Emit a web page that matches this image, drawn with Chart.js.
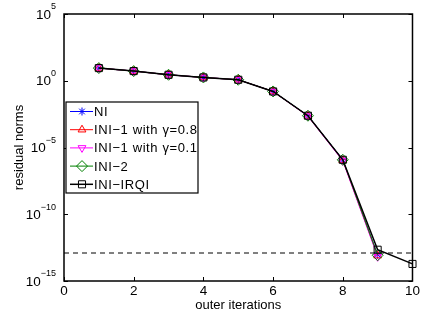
<!DOCTYPE html>
<html lang="en">
<head>
<meta charset="UTF-8" />
<title>Residual norms</title>
<script src="https://cdn.jsdelivr.net/npm/chart.js@4.4.0/dist/chart.umd.min.js"></script>
<style>
  html, body { margin: 0; padding: 0; background: #fff; }
</style>
</head>
<body>
<canvas id="myChart" width="422" height="314"></canvas>
<script>
// data
const iterations = [1, 2, 3, 4, 5, 6, 7, 8, 9, 10];
const niNorms     = [8.9, 5.3, 2.8, 1.77, 1.19, 0.158, 2.4e-3, 1.2e-6, 9.3e-14];
const ini1g08     = [8.9, 5.3, 2.8, 1.77, 1.19, 0.158, 2.3e-3, 1.1e-6, 8.0e-14];
const ini1g01     = [8.9, 5.3, 2.8, 1.77, 1.19, 0.158, 2.2e-3, 1.0e-6, 6.5e-14];
const ini2Norms   = [8.9, 5.3, 2.8, 1.77, 1.19, 0.158, 2.4e-3, 1.2e-6, 8.5e-14];
const irqiNorms   = [8.9, 5.3, 2.8, 1.77, 1.19, 0.158, 2.4e-3, 1.2e-6, 2.2e-13, 1.9e-14];
const tolerance   = 1.25e-13;
const xTicks = [0, 2, 4, 6, 8, 10];
const yTickExp = [5, 0, -5, -10, -15];

const FONT = "'Liberation Sans', Arial, Helvetica, sans-serif";

function pts(vals) {
  return vals.map((v, i) => ({ x: iterations[i], y: v }));
}

const series = [
  { label: "NI", data: niNorms, color: "#0000ff", style: "star", radius: 4, rotation: 0, order: 4 },
  { label: "INI\u22121 with \u03b3=0.8", data: ini1g08, color: "#ff0000", style: "triangle", radius: 4.5, rotation: 0, order: 3 },
  { label: "INI\u22121 with \u03b3=0.1", data: ini1g01, color: "#ff00ff", style: "triangle", radius: 4.5, rotation: 180, order: 2 },
  { label: "INI\u22122", data: ini2Norms, color: "#008000", style: "rectRot", radius: 5.5, rotation: 0, order: 1 },
  { label: "INI\u2212IRQI", data: irqiNorms, color: "#000000", style: "rect", radius: 5, rotation: 0, order: 0 },
];

let datasets = series.map((s) => ({
  label: s.label,
  data: pts(s.data),
  borderColor: s.color,
  backgroundColor: "rgba(0,0,0,0)",
  borderWidth: s.color === "#000000" ? 1.5 : 1,
  pointStyle: s.style,
  pointRotation: s.rotation,
  pointRadius: s.radius,
  pointBorderColor: s.color,
  pointBackgroundColor: "rgba(0,0,0,0)",
  pointBorderWidth: 1,
  order: s.order,
  clip: false,
  tension: 0,
}));
datasets.push({
  label: "tolerance",
  data: [{ x: 0, y: tolerance }, { x: 10, y: tolerance }],
  borderColor: "#000",
  borderWidth: 1,
  borderDash: [5, 4],
  pointRadius: 0,
  order: 5,
});

const matlabAxes = {
  id: "matlabAxes",
  afterDraw(chart) {
    const ctx = chart.ctx;
    const a = chart.chartArea;
    const xs = chart.scales.x;
    const ys = chart.scales.y;
    ctx.save();
    ctx.strokeStyle = "#000";
    ctx.lineWidth = 1;
    // inward ticks
    ctx.beginPath();
    xTicks.forEach((t) => {
      const px = Math.round(xs.getPixelForValue(t)) + 0.5;
      ctx.moveTo(px, a.bottom); ctx.lineTo(px, a.bottom - 4);
      ctx.moveTo(px, a.top); ctx.lineTo(px, a.top + 4);
    });
    yTickExp.forEach((e) => {
      const py = Math.round(ys.getPixelForValue(Math.pow(10, e))) + 0.5;
      ctx.moveTo(a.left, py); ctx.lineTo(a.left + 4, py);
      ctx.moveTo(a.right, py); ctx.lineTo(a.right - 4, py);
    });
    ctx.stroke();
    // box
    ctx.lineWidth = 1.5;
    ctx.strokeRect(a.left, a.top, a.right - a.left, a.bottom - a.top);

    // y tick labels: 10 with superscript exponent
    ctx.fillStyle = "#000";
    ctx.textBaseline = "middle";
    yTickExp.forEach((e) => {
      const py = ys.getPixelForValue(Math.pow(10, e));
      const exp = e < 0 ? "\u2212" + (-e) : String(e);
      ctx.font = "9px " + FONT;
      const ew = ctx.measureText(exp).width;
      const right = a.left - 8;
      ctx.textAlign = "left";
      ctx.fillText(exp, right - ew, py - 7);
      ctx.font = "13.5px " + FONT;
      ctx.textAlign = "right";
      ctx.fillText("10", right - ew, py + 1);
    });

    // legend box
    const lx = 66, ly = 102, lw = 132, lh = 91;
    ctx.fillStyle = "#fff";
    ctx.fillRect(lx, ly, lw, lh);
    ctx.lineWidth = 1.2;
    ctx.strokeRect(lx, ly, lw, lh);
    ctx.font = "13px " + FONT;
    ctx.textAlign = "left";
    ctx.textBaseline = "middle";
    series.forEach((s, i) => {
      const cy = ly + 9.5 + i * 18.2;
      ctx.strokeStyle = s.color;
      ctx.lineWidth = s.color === "#000000" ? 1.5 : 1;
      ctx.beginPath();
      ctx.moveTo(lx + 4, cy); ctx.lineTo(lx + 27, cy);
      ctx.stroke();
      ctx.lineWidth = 1;
      ctx.fillStyle = "rgba(0,0,0,0)";
      Chart.helpers.drawPoint(ctx, { pointStyle: s.style, rotation: s.rotation, radius: s.radius, borderWidth: 1 }, lx + 16, cy);
      ctx.fillStyle = "#000";
      ctx.letterSpacing = "0.6px";
      ctx.fillText(s.label, lx + 28, cy + 1);
      ctx.letterSpacing = "0px";
    });
    ctx.restore();
  },
};

const config = {
  type: "line",
  data: { datasets: datasets },
  options: {
    responsive: false,
    animation: false,
    devicePixelRatio: 1,
    layout: { padding: { top: 14, right: 7, left: 0, bottom: 0 } },
    plugins: { legend: { display: false }, tooltip: { enabled: false } },
    scales: {
      x: {
        type: "linear",
        min: 0,
        max: 10,
        afterBuildTicks: (s) => { s.ticks = xTicks.map((v) => ({ value: v })); },
        afterFit: (s) => { s.height = 33; },
        grid: { display: false, drawTicks: false },
        border: { display: false },
        ticks: { autoSkip: false, maxRotation: 0, padding: 2, color: "#000", font: { family: FONT, size: 13.5 } },
        title: { display: true, text: "outer iterations", color: "#000", padding: { top: 0, bottom: 1 }, font: { family: FONT, size: 13 } },
      },
      y: {
        type: "logarithmic",
        min: 1e-15,
        max: 1e5,
        afterBuildTicks: (s) => { s.ticks = yTickExp.map((e) => ({ value: Math.pow(10, e) })); },
        afterFit: (s) => { s.width = 64; },
        grid: { display: false, drawTicks: false },
        border: { display: false },
        ticks: { display: false },
        title: { display: true, text: "residual norms", color: "#000", padding: { top: 12, bottom: 0 }, font: { family: FONT, size: 13 } },
      },
    },
  },
  plugins: [matlabAxes],
};

let myChart = new Chart(document.getElementById("myChart"), config);
</script>
</body>
</html>
